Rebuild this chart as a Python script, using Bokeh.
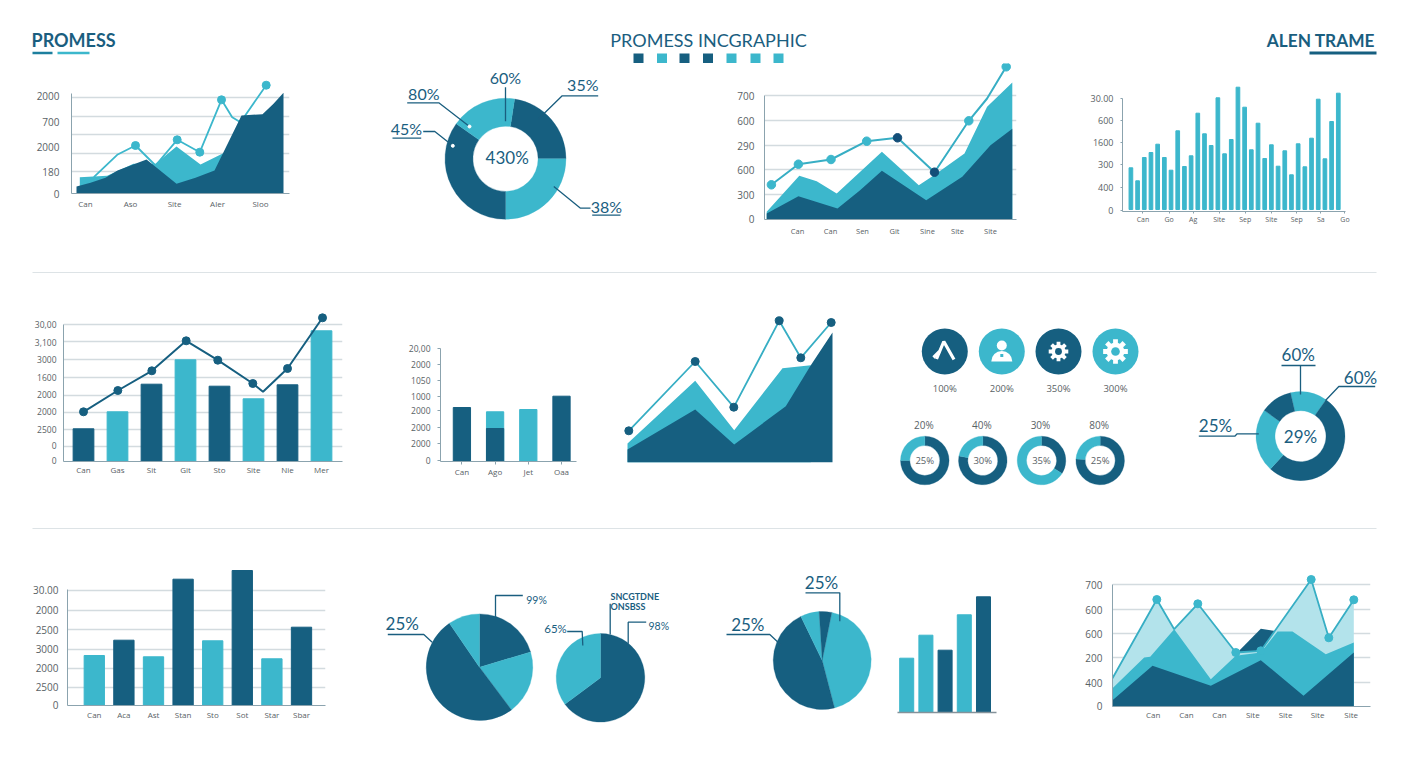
import math
from bokeh.plotting import figure
from bokeh.models import Range1d, FixedTicker, LinearAxis
from bokeh.layouts import row, column
from bokeh.core.properties import value
from bokeh.embed import file_html
from bokeh.resources import INLINE

DARK = "#165f80"
TEAL = "#3cb7cc"
LIGHT = "#b3e3eb"
GRID = "#d3dbdf"
AXIS = "#8ba3ae"
TXT = "#596266"
INK = "#1a5e7f"
NAVY = "#134e78"
LABEL_FONT = "Open Sans"
HEAD_FONT = "Lato"
H = 768

# --- row 1: area chart with a line
a1_dark_x = [5, 19, 34, 46, 75, 105, 124, 143, 170, 191, 202, 212]
a1_dark_y = [7, 10.7, 15.7, 23, 34, 9.7, 15.7, 23, 78, 79.3, 89.7, 100.7]
a1_teal_x = [8.3, 35.7, 62, 84, 105, 129, 150.7, 162]
a1_teal_y = [16.3, 17.7, 29.7, 29.7, 47, 29, 39.7, 43]
a1_line_x = [22.3, 45.7, 64, 84, 105.7, 128.3, 150, 160.7, 169, 194.7]
a1_line_y = [16.3, 38.7, 48, 28, 53.7, 41.3, 93.7, 76.3, 71.3, 108.3]
a1_dots = [2, 4, 5, 6, 9]
a1_yticks = [98, 72, 47, 22, 0]
a1_ylabels = ["2000", "700", "2000", "180", "0"]
a1_grid = [96, 77, 59, 40, 22]
a1_xticks = [14, 59, 103, 146, 189]
a1_xlabels = ["Can", "Aso", "Site", "Aler", "Sloo"]

# --- row 1: main donut
d1_shares = [81.3, 90, 125.5, 63.2]
d1_colors = [DARK, TEAL, DARK, TEAL]

# --- row 1: two layer area chart
a2_dark_x = [2.2, 33.9, 73, 95.6, 117.4, 161.7, 197.8, 226, 247.8]
a2_dark_y = [6, 23.3, 11, 29.3, 48.7, 19.3, 42.7, 74.3, 90.7]
a2_teal_x = [2.2, 34.8, 52.2, 72.2, 117.4, 154.3, 169.5, 200, 222.6, 247.8]
a2_teal_y = [7.7, 43.7, 38.3, 26, 67.7, 34.3, 44.3, 66, 112.7, 137]
a2_line_x = [6.9, 33.9, 66.5, 102.2, 133, 170, 204.3, 222.6, 241.7]
a2_line_y = [34.7, 55.3, 60, 78.3, 81.7, 47.3, 98.7, 121, 152.7]
a2_dots = [0, 1, 2, 3, 4, 5, 6, 8]
a2_dot_colors = [TEAL, TEAL, TEAL, TEAL, NAVY, NAVY, TEAL, TEAL]
a2_yticks = [124, 99, 74, 50, 25, 1]
a2_ylabels = ["700", "600", "290", "600", "300", "0"]
a2_grid = [124, 99, 74, 50, 25]
a2_xticks = [33, 66, 98, 130, 163, 193, 226]
a2_xlabels = ["Can", "Can", "Sen", "Git", "Sine", "Site", "Site"]

# --- row 1: thin bars
b1_values = [43.7, 30.7, 54, 59, 67.3, 54, 41.3, 80.7, 45, 55.7, 98.3, 77.7, 66, 113.7, 57.7, 72,
             124.3, 104.3, 61.7, 88.3, 53, 66.7, 45.3, 60.7, 36.7, 67.7, 44.7, 73.3, 112.3, 52.7, 90, 118.3]
b1_yticks = [113, 91, 69, 47, 24, 1]
b1_ylabels = ["30.00", "600", "1600", "300", "400", "0"]
b1_xticks = [1.8, 5.7, 9.3, 13.2, 17.1, 21, 24.8, 28.4, 32]
b1_xlabels = ["Can", "Go", "Ag", "Site", "Sep", "Site", "Sep", "Sa", "Go"]

# --- row 2: bars with a line
b2_values = [32.7, 49.7, 77.3, 101.7, 75.3, 62.7, 76.7, 130.7]
b2_colors = [DARK, TEAL, DARK, TEAL, DARK, TEAL, DARK, TEAL]
b2_line_x = [0, 1.01, 2.01, 3.02, 3.95, 4.98, 5.28, 6, 7.03]
b2_line_y = [49.7, 71, 90.7, 120.7, 101.3, 78, 69.7, 93, 143.7]
b2_dots = [0, 1, 2, 3, 4, 5, 7, 8]
b2_yticks = [137.3, 119, 101.7, 84, 67, 49.7, 32.3, 15.7, 1]
b2_ylabels = ["30,00", "3,100", "3000", "1600", "2000", "2000", "2500", "0", "0"]
b2_grid = [137.3, 119.7, 101.7, 84, 66.3, 49.3, 32, 15]
b2_xlabels = ["Can", "Gas", "Sit", "Git", "Sto", "Site", "Nie", "Mer"]

# --- row 2: small bars
b3_values = [54, 49.7, 52, 65.3]
b3_colors = [DARK, TEAL, TEAL, DARK]
b3_lower = [0, 33, 0, 0]
b3_yticks = [113.3, 96.7, 80.7, 65.3, 50.7, 34.3, 18, 0.7]
b3_ylabels = ["20,00", "2000", "1050", "1000", "2000", "2000", "2000", "0"]
b3_xlabels = ["Can", "Ago", "Jet", "Oaa"]

# --- row 2: area chart without axes
a3_dark_x = [0, 67.7, 106.7, 158.3, 183.3, 205]
a3_dark_y = [13, 53, 18, 56.3, 97.3, 130]
a3_teal_x = [0, 67.7, 106.7, 155, 183.3]
a3_teal_y = [19, 81.7, 32.3, 94.3, 97.3]
a3_line_x = [1.3, 67.7, 106.3, 151.7, 173.3, 203.7]
a3_line_y = [31.7, 101, 55.3, 141.7, 104.7, 140]

# --- row 2: icons and small donuts
icon_labels = ["100%", "200%", "350%", "300%"]
icon_colors = [DARK, TEAL, DARK, TEAL]
mini_top = ["20%", "40%", "30%", "80%"]
mini_mid = ["25%", "30%", "35%", "25%"]
mini_shares = [[75, 25], [78, 22], [34, 66], [76, 24]]

# --- row 2: right donut
d2_shares = [48, 187.5, 83, 41.5]
d2_colors = [TEAL, DARK, TEAL, DARK]

# --- row 3: bars
b4_values = [50, 65.3, 48.7, 126.3, 64.7, 135, 46.7, 78.3]
b4_colors = [TEAL, DARK, TEAL, DARK, TEAL, DARK, TEAL, DARK]
b4_yticks = [115.7, 95.7, 76, 57, 37.3, 18.3, 0.3]
b4_ylabels = ["30.00", "2000", "2500", "3000", "2000", "2500", "0"]
b4_grid = [115.3, 95.3, 76, 56.3, 37, 18]
b4_xlabels = ["Can", "Aca", "Ast", "Stan", "Sto", "Sot", "Star", "Sbar"]

# --- row 3: pies
p1_shares = [73.4, 69.8, 182.4, 34.4]
p1_colors = [DARK, TEAL, DARK, TEAL]
p2_shares = [233.4, 126.6]
p2_colors = [DARK, TEAL]
p3_shares = [154.1, 168.8, 22.2, 14.9]
p3_colors = [TEAL, DARK, TEAL, DARK]

# --- row 3: small bars
b5_values = [54.3, 77.3, 62.3, 97.7, 115.7]
b5_colors = [TEAL, TEAL, DARK, TEAL, DARK]

# --- row 3: layered areas
a4_back_x = [121.7, 148.3, 166.7, 181.7]
a4_back_y = [50.7, 77.7, 75, 62.3]
a4_light_x = [0, 44.3, 61.7, 85.3, 123.3, 148.3, 198.7, 216.3, 241.3]
a4_light_y = [28.3, 107, 77.3, 102.7, 54, 55.7, 127, 68.7, 106.7]
a4_teal_x = [0, 31.7, 37.7, 61.7, 98.3, 123.3, 148.3, 165, 180, 213.3, 241.3]
a4_teal_y = [18.3, 49, 49.7, 77.3, 27.3, 50.7, 54, 75, 75, 52.3, 64]
a4_dark_x = [0, 40, 98.3, 148.3, 191, 241.3]
a4_dark_y = [6.3, 40.7, 20.7, 46.3, 10.7, 54]
a4_dots = [1, 3, 4, 5, 6, 7, 8]
a4_yticks = [121.7, 97, 72.7, 48.3, 23.7, 0.3]
a4_ylabels = ["700", "600", "600", "200", "400", "0"]
a4_grid = [121.7, 97.3, 73, 48.7, 24.3]
a4_xticks = [40.7, 74, 107, 140.3, 173, 205, 238.7]
a4_xlabels = ["Can", "Can", "Can", "Site", "Site", "Site", "Site"]


def base(x0, y0, x1, y1, fl, ft, fr, fb, xr, yr, axes):
    loc = "below" if axes else None
    yloc = "left" if axes else None
    p = figure(width=x1 - x0, height=y1 - y0, x_range=Range1d(*xr), y_range=Range1d(*yr),
               output_backend="svg", toolbar_location=None, x_axis_location=loc, y_axis_location=yloc,
               min_border_left=fl - x0, min_border_right=x1 - fr,
               min_border_top=ft - y0, min_border_bottom=y1 - fb, frame_align=False)
    p.outline_line_color = None
    p.grid.visible = False
    return p


def canvas(x0, y0, x1, y1):
    # one data unit is one pixel here, pies need a square scale
    return base(x0, y0, x1, y1, x0, y0, x1, y1, (x0, x1), (H - y1, H - y0), False)


def chart(x0, y0, x1, y1, fl, ft, fr, fb, axes=True, ox=None):
    ox = fl if ox is None else ox
    return base(x0, y0, x1, y1, fl, ft, fr, fb, (fl - ox, fr - ox), (0, fb - ft), axes)


def bar_chart(x0, y0, x1, y1, fl, ft, fr, fb, c0, step, axes=True):
    xr = ((fl - c0) / step, (fr - c0) / step)
    return base(x0, y0, x1, y1, fl, ft, fr, fb, xr, (0, fb - ft), axes)


def style_axes(p, yticks, ylabels, xticks, xlabels, grid=None, ytop=None, ystand=9, xstand=6,
               ysize="10px", xsize="8px", tick=0):
    ya = p.yaxis[0]
    ya.ticker = FixedTicker(ticks=yticks)
    ya.major_label_overrides = dict(zip(yticks, ylabels))
    ya.major_label_standoff = ystand
    ya.major_label_text_font = LABEL_FONT
    ya.major_label_text_font_size = ysize
    ya.major_label_text_color = TXT
    ya.axis_line_color = AXIS
    ya.major_tick_line_color = AXIS
    ya.major_tick_in = 0
    ya.major_tick_out = tick
    ya.minor_tick_line_color = None
    if ytop is not None:
        ya.bounds = (0, ytop)
    xa = p.xaxis[0]
    xa.ticker = FixedTicker(ticks=xticks)
    xa.major_label_overrides = dict(zip(xticks, xlabels))
    xa.major_label_standoff = xstand
    xa.major_label_text_font = LABEL_FONT
    xa.major_label_text_font_size = xsize
    xa.major_label_text_color = TXT
    xa.axis_line_color = AXIS
    xa.major_tick_line_color = AXIS
    xa.major_tick_in = 0
    xa.major_tick_out = tick
    xa.minor_tick_line_color = None
    if grid:
        g = p.ygrid[0]
        g.visible = True
        g.ticker = FixedTicker(ticks=grid)
        g.grid_line_color = GRID
        g.grid_line_width = 1.3


def area(p, xs, ys, color):
    p.varea(x=xs, y1=[0] * len(xs), y2=ys, fill_color=color)


def dots(p, xs, ys, idx, color, size=8):
    p.scatter([xs[i] for i in idx], [ys[i] for i in idx], size=size, color=color)


def donut(p, cx, cy, ro, ri, shares, colors, start=0):
    total = sum(shares)
    a0 = start / 360 * 2 * math.pi
    starts, ends = [], []
    for s in shares:
        a1 = a0 + s / total * 2 * math.pi
        starts.append(math.pi / 2 - a0)
        ends.append(math.pi / 2 - a1)
        a0 = a1
    n = len(shares)
    p.annular_wedge(x=[cx] * n, y=[H - cy] * n, inner_radius=ri, outer_radius=ro, start_angle=starts,
                    end_angle=ends, direction="clock", fill_color=colors, line_color=colors, line_width=0.3)


def label(p, x, y, text, size=16, color=INK, font=HEAD_FONT, align="center", style="normal"):
    p.text([x], [H - y], text=[text], text_font=value(font), text_font_size=f"{size}px", text_color=color,
           text_align=align, text_baseline="middle", text_font_style=style)


def leader(p, pts, color=INK, width=1.3):
    p.line([a for a, b in pts], [H - b for a, b in pts], line_color=color, line_width=width)


def gear(p, cx, cy, r, hole):
    for k in range(8):
        t = k * math.pi / 4
        p.rect([cx + 0.82 * r * math.cos(t)], [H - cy + 0.82 * r * math.sin(t)], width=0.42 * r, height=0.4 * r,
               angle=t, fill_color="white", line_color=None)
    p.circle([cx], [H - cy], radius=0.74 * r, fill_color="white", line_color=None)
    p.circle([cx], [H - cy], radius=0.36 * r, fill_color=hole, line_color=None)


# header
head = canvas(8, 8, 1400, 63)
label(head, 31, 39.5, "PROMESS", 18, INK, align="left", style="bold")
label(head, 708, 39, "PROMESS INCGRAPHIC", 18, INK)
label(head, 1374.5, 39.5, "ALEN TRAME", 17.3, INK, align="right", style="bold")
leader(head, [(32, 52.5), (52, 52.5)], "#1d7f9e", 2.5)
leader(head, [(57, 52.5), (89, 52.5)], TEAL, 2.5)
leader(head, [(1309, 52.5), (1376, 52.5)], DARK, 3)
square_x = [638, 661.5, 684, 707.5, 731, 755, 778]
square_c = [DARK, TEAL, DARK, DARK, TEAL, TEAL, TEAL]
head.rect(square_x, [H - 58] * 7, width=10, height=10, fill_color=square_c, line_color=None)

# row 1
p_a1 = chart(8, 63, 370, 250, 71, 78, 289, 193)
p_a1.line(a1_line_x, a1_line_y, line_color=TEAL, line_width=1.8)
dots(p_a1, a1_line_x, a1_line_y, a1_dots, TEAL)
area(p_a1, a1_teal_x, a1_teal_y, TEAL)
area(p_a1, a1_dark_x, a1_dark_y, DARK)
style_axes(p_a1, a1_yticks, a1_ylabels, a1_xticks, a1_xlabels, a1_grid, ytop=100, ystand=12, xstand=4)

p_d1 = canvas(370, 63, 720, 250)
donut(p_d1, 505, 158.3, 60.5, 32.6, d1_shares, d1_colors, start=8.7)
label(p_d1, 506.7, 156.7, "430%", 17)
label(p_d1, 505, 77.3, "60%")
label(p_d1, 423.3, 93.3, "80%")
label(p_d1, 406, 127.7, "45%")
label(p_d1, 582.3, 84.3, "35%")
label(p_d1, 606, 205.7, "38%")
leader(p_d1, [(505, 86.7), (505, 120.7)])
leader(p_d1, [(406.7, 102.3), (438.3, 102.3), (469, 126)])
leader(p_d1, [(392, 137.7), (420.7, 137.7)])
leader(p_d1, [(422.7, 131), (434.3, 131), (452.3, 145.3)])
leader(p_d1, [(597.7, 95.3), (561.7, 95.3), (537.7, 118.7)])
leader(p_d1, [(591.7, 214.7), (620, 214.7)])
leader(p_d1, [(590, 207.7), (580, 207.7), (553.3, 186)])
p_d1.scatter([469, 452.3], [H - 126, H - 145.3], size=3, color="white")

p_a2 = chart(720, 63, 1060, 250, 764, 63, 1016, 219)
p_a2.line(a2_line_x, a2_line_y, line_color="#37aec4", line_width=2)
area(p_a2, a2_teal_x, a2_teal_y, TEAL)
area(p_a2, a2_dark_x, a2_dark_y, DARK)
p_a2.scatter([a2_line_x[i] for i in a2_dots], [a2_line_y[i] for i in a2_dots], size=8.5, color=a2_dot_colors)
style_axes(p_a2, a2_yticks, a2_ylabels, a2_xticks, a2_xlabels, a2_grid, ytop=124, ystand=10, xstand=6, xsize="7.5px")

b1_x = list(range(len(b1_values)))
p_b1 = bar_chart(1060, 63, 1400, 250, 1122, 80, 1345, 211, 1130.4, 6.69)
p_b1.vbar(x=b1_x, top=b1_values, bottom=2, width=0.55, color=TEAL)
style_axes(p_b1, b1_yticks, b1_ylabels, b1_xticks, b1_xlabels, ytop=113, ystand=7, xstand=1, ysize="9px",
           xsize="7px", tick=2)

# row 2
p_b2 = bar_chart(8, 300, 375, 500, 63, 310, 342, 461, 83, 34)
p_b2.vbar(x=list(range(8)), top=b2_values, width=0.61, color=b2_colors)
p_b2.line(b2_line_x, b2_line_y, line_color=DARK, line_width=2)
dots(p_b2, b2_line_x, b2_line_y, b2_dots, DARK)
style_axes(p_b2, b2_yticks, b2_ylabels, list(range(8)), b2_xlabels, b2_grid, ytop=137.3, ystand=7, xstand=2,
           ysize="8.5px")

p_b3 = bar_chart(375, 300, 610, 500, 440, 330, 576, 461, 461.4, 33.2)
p_b3.vbar(x=list(range(4)), top=b3_values, width=0.52, color=b3_colors)
p_b3.vbar(x=list(range(4)), top=b3_lower, width=0.52, color=DARK)
style_axes(p_b3, b3_yticks, b3_ylabels, list(range(4)), b3_xlabels, ytop=113.3, ystand=7, xstand=1, ysize="8.5px",
           tick=3)

p_a3 = chart(610, 300, 880, 500, 620, 310, 840, 462, axes=False, ox=627)
area(p_a3, a3_teal_x, a3_teal_y, TEAL)
area(p_a3, a3_dark_x, a3_dark_y, DARK)
p_a3.line(a3_line_x, a3_line_y, line_color="#37aec4", line_width=1.8)
dots(p_a3, a3_line_x, a3_line_y, list(range(6)), DARK)

p_ic = canvas(880, 300, 1175, 500)
icon_x = [944.3, 1001.3, 1058, 1115]
p_ic.circle(icon_x, [H - 351] * 4, radius=23, fill_color=icon_colors, line_color=None)
p_ic.line([936, 943.3, 953.5], [H - 358.5, H - 341, H - 359], line_color="white", line_width=3.2)
p_ic.line([933, 939], [H - 357, H - 351], line_color="white", line_width=3.2)
p_ic.circle([1001.3], [H - 345], radius=5, fill_color="white", line_color=None)
p_ic.wedge([1001.3], [H - 361], radius=10.5, start_angle=0, end_angle=math.pi, fill_color="white", line_color=None)
p_ic.rect([1001.3], [H - 355], width=3, height=3, fill_color=TEAL, line_color=None)
gear(p_ic, 1058, 351, 9.5, DARK)
gear(p_ic, 1115, 351, 12, TEAL)
for i, x in enumerate(icon_x):
    label(p_ic, x, 388, icon_labels[i], 9.5, TXT, LABEL_FONT)
mini_x = [924.3, 982.3, 1041, 1099.7]
for i, x in enumerate(mini_x):
    cols = [DARK, TEAL]
    donut(p_ic, x, 460, 24.3, 15, mini_shares[i], cols)
    label(p_ic, x - 1, 424.7, mini_top[i], 10, TXT, LABEL_FONT)
    label(p_ic, x, 460, mini_mid[i], 9.5, TXT, LABEL_FONT)

p_d2 = canvas(1175, 300, 1400, 500)
donut(p_d2, 1300, 435.7, 44.5, 25.5, d2_shares, d2_colors, start=347)
label(p_d2, 1300, 435.7, "29%", 17)
label(p_d2, 1297.7, 354.3, "60%", 17)
label(p_d2, 1360, 376.7, "60%", 17)
label(p_d2, 1215, 425, "25%", 17)
leader(p_d2, [(1281, 365), (1315, 365)])
leader(p_d2, [(1300, 365), (1300, 394)])
leader(p_d2, [(1374.7, 386), (1338.3, 386), (1325, 400)])
leader(p_d2, [(1198.3, 435.7), (1234.3, 435.7), (1236.7, 433.3), (1258.3, 433.3)])

# row 3
p_b4 = bar_chart(8, 560, 370, 750, 67, 560, 325, 705, 93.8, 29.6)
p_b4.vbar(x=list(range(8)), top=b4_values, width=0.686, color=b4_colors)
style_axes(p_b4, b4_yticks, b4_ylabels, list(range(8)), b4_xlabels, b4_grid, ytop=115.7, ystand=9, xstand=3)

p_p = canvas(370, 560, 700, 750)
donut(p_p, 479, 666.7, 53.3, 0, p1_shares, p1_colors)
donut(p_p, 600, 677.3, 44.3, 0, p2_shares, p2_colors)
label(p_p, 401.7, 623.3, "25%", 17)
label(p_p, 536, 599.7, "99%", 10.5)
label(p_p, 555, 628.3, "65%", 11.5)
label(p_p, 658.3, 625, "98%", 10.5)
label(p_p, 610, 595.7, "SNCGTDNE", 9, INK, align="left", style="bold")
label(p_p, 610, 605.7, "ONSBSS", 9, INK, align="left", style="bold")
leader(p_p, [(387.3, 634), (423.3, 634), (431.7, 641.7)])
leader(p_p, [(522.3, 595), (495, 595), (495, 616.7)])
leader(p_p, [(566.7, 631), (581.7, 631), (582.3, 645)])
leader(p_p, [(645.7, 621.7), (627.7, 621.7), (627.7, 643.3)])
leader(p_p, [(609.7, 603.3), (609.7, 634)])

p_p3 = canvas(700, 560, 885, 750)
donut(p_p3, 821.7, 660, 49, 0, p3_shares, p3_colors, start=11.3)
label(p_p3, 821, 582.3, "25%", 17)
label(p_p3, 747.3, 624, "25%", 17)
leader(p_p3, [(805, 592.3), (839.3, 592.3), (839.3, 620.7)])
leader(p_p3, [(726, 634), (769.3, 634), (781, 645)])

p_b5 = bar_chart(885, 560, 1050, 750, 897, 590, 996, 712, 906.2, 19.2, axes=False)
p_b5.vbar(x=list(range(5)), top=b5_values, width=0.73, color=b5_colors)
p_b5.add_layout(LinearAxis(ticker=FixedTicker(ticks=[]), axis_line_color="#84929a", axis_line_width=1.5), "below")

p_a4 = chart(1050, 560, 1400, 750, 1112, 570, 1370, 706)
area(p_a4, a4_back_x, a4_back_y, DARK)
area(p_a4, a4_light_x, a4_light_y, LIGHT)
area(p_a4, a4_teal_x, a4_teal_y, TEAL)
area(p_a4, a4_dark_x, a4_dark_y, DARK)
p_a4.line(a4_light_x, a4_light_y, line_color="#37aec4", line_width=1.8)
dots(p_a4, a4_light_x, a4_light_y, a4_dots, TEAL)
style_axes(p_a4, a4_yticks, a4_ylabels, a4_xticks, a4_xlabels, a4_grid, ytop=121.7, ystand=10, xstand=2)

# separators
sep1 = canvas(8, 250, 1400, 300)
leader(sep1, [(32, 272), (1376, 272)], "#dde3e6", 1.2)
sep2 = canvas(8, 500, 1400, 560)
leader(sep2, [(32, 528), (1376, 528)], "#dde3e6", 1.2)

page = column(head,
              row(p_a1, p_d1, p_a2, p_b1),
              sep1,
              row(p_b2, p_b3, p_a3, p_ic, p_d2),
              sep2,
              row(p_b4, p_p, p_p3, p_b5, p_a4),
              margin=(8, 8, 8, 8))

open("out.html", "w").write(file_html(page, INLINE))
